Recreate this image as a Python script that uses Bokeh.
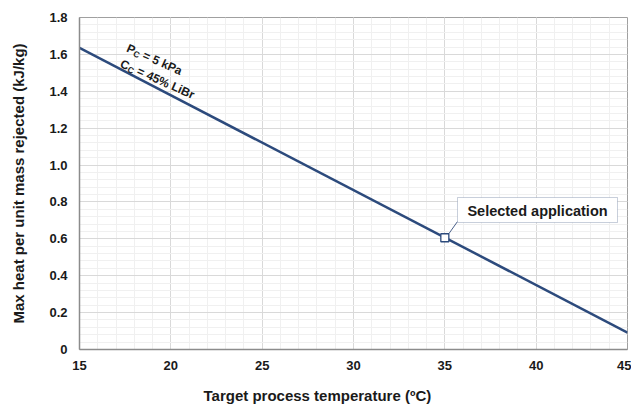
import math
from bokeh.plotting import figure
from bokeh.models import (Range1d, FixedTicker, Label, BoxAnnotation, Title)
from bokeh.embed import file_html
from bokeh.resources import INLINE

# ---- data ----
temps = [15, 45]                 # Target process temperature (ºC)
heat = [1.636, 0.092]            # Max heat per unit mass rejected (kJ/kg)
sel_temp = [35]                  # Selected application
sel_heat = [0.606]
x_ticks = [15, 20, 25, 30, 35, 40, 45]
y_ticks = [0, 0.2, 0.4, 0.6, 0.8, 1.0, 1.2, 1.4, 1.6, 1.8]
y_tick_labels = ["0", "0.2", "0.4", "0.6", "0.8", "1.0", "1.2", "1.4", "1.6", "1.8"]

FONT = "Liberation Sans"
TXT = "#1a1a1a"
NAVY = "#2c4a7c"

W, H = 631, 407
L, R, T, B = 79, 4, 17, 58
FW, FH = W - L - R, H - T - B
X0, X1, Y0, Y1 = 15, 45, 0, 1.8

p = figure(width=W, height=H, output_backend="svg", toolbar_location=None,
           x_range=Range1d(X0, X1), y_range=Range1d(Y0, Y1),
           min_border_left=L, min_border_right=R, min_border_top=T, min_border_bottom=B)
p.background_fill_color = "white"
p.border_fill_color = "white"
p.outline_line_color = "#a0a0a0"
p.outline_line_width = 1

p.xaxis.ticker = FixedTicker(ticks=x_ticks, minor_ticks=list(range(15, 46)))
p.yaxis.ticker = FixedTicker(ticks=y_ticks, minor_ticks=[i * 0.04 for i in range(46)])
p.yaxis.major_label_overrides = {t: s for t, s in zip(y_ticks, y_tick_labels)}

for ax in (p.xaxis, p.yaxis):
    ax.axis_line_color = "#8c8c8c"
    ax.axis_line_width = 1.5
    ax.major_tick_out = 0
    ax.major_tick_in = 0
    ax.minor_tick_out = 0
    ax.minor_tick_in = 0
    ax.major_label_text_font = FONT
    ax.major_label_text_font_style = "bold"
    ax.major_label_text_font_size = "13px"
    ax.major_label_text_color = TXT
    ax.major_label_text_line_height = 1.0
p.xaxis.major_label_standoff = 11
p.yaxis.major_label_standoff = 12

# blank spacer label on the x axis, so that the title below sits lower
p.xaxis.axis_label = "\u00a0"
p.xaxis.axis_label_standoff = 0
p.xaxis.axis_label_text_font_size = "8px"
p.xaxis.axis_label_text_line_height = 1.0

p.yaxis.axis_label = "Max heat per unit mass rejected (kJ/kg)"
p.yaxis.axis_label_text_font = FONT
p.yaxis.axis_label_text_font_style = "bold"
p.yaxis.axis_label_text_font_size = "15px"
p.yaxis.axis_label_text_color = TXT
p.yaxis.axis_label_standoff = 19

p.xgrid.grid_line_color = "#d9d9d9"
p.ygrid.grid_line_color = "#d9d9d9"
p.xgrid.minor_grid_line_color = "#f0f0f0"
p.ygrid.minor_grid_line_color = "#f0f0f0"

# x axis title, placed left-offset as in the reference (centred on the chart area)
p.add_layout(Title(text="Target process temperature (ºC)", align="left", offset=124,
                   text_font=FONT, text_font_style="bold", text_font_size="15px",
                   text_color=TXT, text_line_height=1.0, standoff=0), "below")


def to_data(sx, sy):
    """screen pixel (canvas) -> data coordinates"""
    return (X0 + (sx - L) / FW * (X1 - X0), Y0 + (T + FH - sy) / FH * (Y1 - Y0))


def to_screen(x, y):
    return (L + (x - X0) / (X1 - X0) * FW, T + FH - (y - Y0) / (Y1 - Y0) * FH)


# main line
p.line(temps, heat, line_color=NAVY, line_width=2.5)

# rotated annotation with subscripts
theta = math.radians(24)
u = (math.cos(theta), math.sin(theta))
v = (-math.sin(theta), math.cos(theta))


def rot_text(base, along, down, text, size):
    sx = base[0] + along * u[0] + down * v[0]
    sy = base[1] + along * u[1] + down * v[1]
    x, y = to_data(sx, sy)
    p.add_layout(Label(x=x, y=y, text=text, angle=-theta, text_font=FONT,
                       text_font_style="bold", text_font_size=f"{size}px",
                       text_color=TXT, text_align="left", text_baseline="alphabetic"))


big, small = 12, 8.5
line1 = (127, 47)
rot_text(line1, 0, 0, "P", big)
rot_text(line1, 0.667 * big, 2.5, "C", small)
rot_text(line1, 0.667 * big + 0.722 * small + 0.278 * big, 0, "= 5 kPa", big)
line2 = (120.5, 62.5)
rot_text(line2, 0, 0, "C", big)
rot_text(line2, 0.722 * big, 2.5, "C", small)
rot_text(line2, 0.722 * big + 0.722 * small + 0.278 * big, 0, "= 45% LiBr", big)

# selected application callout
msx, msy = to_screen(sel_temp[0], sel_heat[0])
bx0, by0 = to_data(457, 222)
bx1, by1 = to_data(617, 197)
p.add_layout(BoxAnnotation(left=bx0, right=bx1, bottom=by0, top=by1,
                           fill_color="white", fill_alpha=1.0,
                           line_color="#4a6089", line_width=1, level="overlay"))
lx0, ly0 = to_data(msx + 4, msy - 4)
lx1, ly1 = to_data(457, 221)
p.segment(x0=[lx0], y0=[ly0], x1=[lx1], y1=[ly1], line_color="#4a6089", line_width=1)
cx, cy = to_data(537, 210)
p.add_layout(Label(x=cx, y=cy, text="Selected application", text_font=FONT,
                   text_font_style="bold", text_font_size="14.5px", text_color=TXT,
                   text_align="center", text_baseline="middle", level="overlay"))

p.scatter(sel_temp, sel_heat, marker="square", size=8, fill_color="white",
          line_color=NAVY, line_width=1.3)

open("out.html", "w").write(file_html(p, INLINE))
